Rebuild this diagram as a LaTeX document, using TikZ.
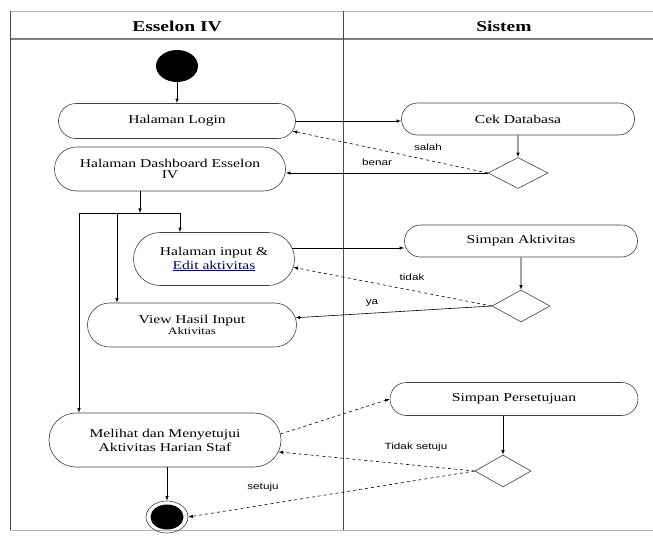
\documentclass[tikz,border=0pt]{standalone}
\usepackage{fontspec}
\setmainfont{Liberation Serif}[FakeStretch=1.3]
\newfontfamily\lblfont{Liberation Sans}[FakeStretch=1.3]
\usepackage{tikz}
\usetikzlibrary{arrows,shapes.geometric,shapes.misc}

\begin{document}
\begin{tikzpicture}[x=1pt,y=-1pt,
  act/.style={rounded rectangle,draw=black!75,line width=.6pt,align=center,
    inner sep=2pt,font=\fontsize{12}{14}\selectfont},
  dec/.style={diamond,draw=black!75,line width=.6pt,inner sep=0pt},
  flow/.style={-latex,line width=.6pt},
  alt/.style={dashed},
  lbl/.style={font=\lblfont\fontsize{9}{10}\selectfont},
  lane/.style={font=\bfseries\fontsize{15}{16}\selectfont}]
\useasboundingbox (0,0) rectangle (653,538);

\draw[gray!60] (10,11) -- (653,11);
\draw[gray,line width=1.5pt] (10,39) -- (653,39);
\draw[black!70] (10,11) -- (10,530);
\draw[gray!60] (10,530) -- (653,530);
\draw[black!70] (343,11) -- (343,530);
\draw (177,26) node (h1) [lane] {Esselon IV};
\draw (504,26) node (h2) [lane] {Sistem};

\draw (177,66)  node (start) [ellipse,fill=black,minimum width=42pt,minimum height=32pt,inner sep=0pt] {};
\draw (177,121) node (login) [act,minimum width=241pt,minimum height=35pt] {Halaman Login};
\draw (518,119) node (cek)   [act,minimum width=237pt,minimum height=32pt] {Cek Databasa};
\draw (518,173) node (d1)    [dec,minimum width=60pt,minimum height=31pt] {};
\draw (170,169) node (dash)  [act,minimum width=235pt,minimum height=44pt] {Halaman Dashboard Esselon\\[-3pt]IV};
\draw (start) -- (login) [flow];
\draw[flow] (login.east) -- (login.east -| cek.west);
\draw[flow] (cek) -- (d1);
\draw[flow,alt] (d1.west) -- (login.-5);
\draw[flow] (d1.west) -- (d1.west -| dash.east);
\draw (428,147) node (l1) [lbl] {salah};
\draw (377,162) node (l2) [lbl] {benar};

\coordinate (split) at (140,213);
\coordinate (barL) at (79,213);
\coordinate (barM) at (117,213);
\coordinate (barR) at (180,213);
\draw[flow] (split |- dash.south) -- (split);
\draw[line width=.6pt] (barL) -- (barR);

\draw (214,259) node (input)   [act,minimum width=165pt,minimum height=53pt] {Halaman input \&\\\textcolor{blue!45!black}{\underline{Edit aktivitas}}};
\draw (521,241) node (simpanA) [act,minimum width=237pt,minimum height=32pt] {Simpan Aktivitas};
\draw (521,306) node (d2)      [dec,minimum width=58pt,minimum height=32pt] {};
\draw (192,325) node (view)    [act,minimum width=213pt,minimum height=44pt] {View Hasil Input\\[-3pt]{\fontsize{10}{11}\selectfont Aktivitas}};
\draw[flow] (barR) -- (barR |- input.north);
\draw[flow] (barM) -- (barM |- view.north);
\draw[flow] (input.8) -- (input.8 -| simpanA.west);
\draw[flow] (simpanA) -- (d2);
\draw[flow,alt] (d2.west) -- (input.-6);
\draw[flow] (d2.west) -- (view.4);
\draw (412,277) node (l3) [lbl] {tidak};
\draw (372,303) node (l4) [lbl] {ya};

\draw (165,440) node (melihat) [act,minimum width=236pt,minimum height=54pt] {Melihat dan Menyetujui\\Aktivitas Harian Staf};
\draw (514,399) node (simpanP) [act,minimum width=252pt,minimum height=33pt] {Simpan Persetujuan};
\draw (503,471) node (d3)      [dec,minimum width=56pt,minimum height=32pt] {};
\draw (167,517) node (end)     [ellipse,draw=black!75,line width=.6pt,minimum width=42pt,minimum height=32pt,inner sep=0pt,
  path picture={\fill (path picture bounding box.center) ellipse (16.5pt and 12.5pt);}] {};
\draw[flow] (barL) -- (barL |- melihat.north);
\draw[flow,alt] (melihat.3) -- (simpanP.west);
\draw[flow] (d3.north |- simpanP.south) -- (d3.north);
\draw[flow,alt] (d3.west) -- (melihat.-6);
\draw[flow,alt] (d3.west) -- (end.east);
\draw[flow] (end.north |- melihat.south) -- (end.north);
\draw (416,447) node (l5) [lbl] {Tidak setuju};
\draw (263,487) node (l6) [lbl] {setuju};
\end{tikzpicture}
\end{document}
